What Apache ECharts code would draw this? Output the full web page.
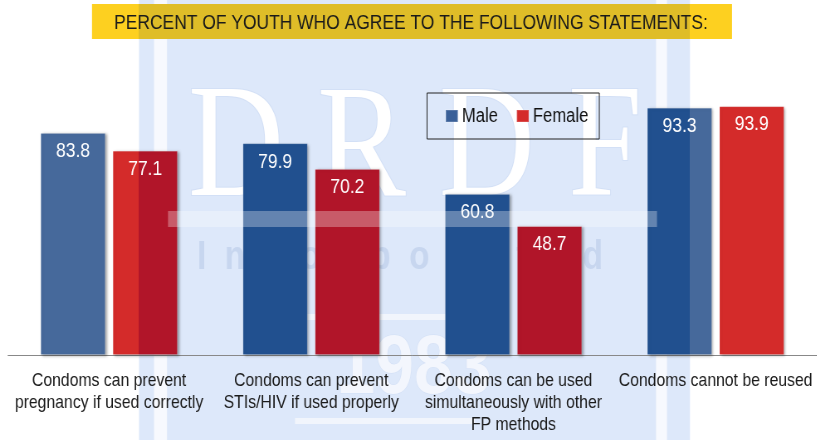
<!DOCTYPE html>
<html>
<head>
<meta charset="utf-8">
<script src="https://cdn.jsdelivr.net/npm/echarts@6/dist/echarts.min.js"></script>
<style>
  html, body { margin: 0; padding: 0; background: #fff; overflow: hidden; }
  /* the source slide is squeezed sideways, so draw wide and narrow it */
  #chart { width: 984px; height: 440px; transform: scaleX(0.83); transform-origin: 0 0; }
</style>
</head>
<body>
<div id="chart"></div>
<script>
// chart data
var categories = [
  'Condoms can prevent\npregnancy if used correctly',
  'Condoms can prevent\nSTIs/HIV if used properly',
  'Condoms can be used\nsimultaneously with other\nFP methods',
  'Condoms cannot be reused'
]
var maleValues = [83.8, 79.9, 60.8, 93.3]
var femaleValues = [77.1, 70.2, 48.7, 93.9]
var seriesNames = ['Male', 'Female']

var SX = 0.83
function X(px) { return px / SX } // screen x -> unsquashed x
var FONT = "'Liberation Sans', Arial, sans-serif"

// the watermark panel tints whatever sits under it
var MALE_OUT = '#46699b'
var MALE_IN = '#21508f'
var FEMALE_OUT = '#d42b2a'
var FEMALE_IN = '#b11529'

function split(a, b, at) {
  return new echarts.graphic.LinearGradient(0, 0, 1, 0, [
    { offset: 0, color: a },
    { offset: at, color: a },
    { offset: at, color: b },
    { offset: 1, color: b }
  ])
}
var maleColors = [MALE_OUT, MALE_IN, MALE_IN, split(MALE_IN, MALE_OUT, 0.66)]
var femaleColors = [split(FEMALE_OUT, FEMALE_IN, 0.4), FEMALE_IN, FEMALE_IN, FEMALE_OUT]

function items(values, colors) {
  return values.map(function (v, i) {
    return { value: v, itemStyle: { color: colors[i] } }
  })
}

var chart = echarts.init(document.getElementById('chart'))

var barStyle = {
  shadowColor: 'rgba(0,0,0,0.35)',
  shadowBlur: 3,
  shadowOffsetX: 2,
  shadowOffsetY: 1,
  borderColor: 'rgba(255,255,255,0.15)',
  borderWidth: 1
}
var valueLabel = {
  show: true,
  position: 'insideTop',
  distance: 8,
  color: '#fff',
  fontSize: 21,
  fontFamily: FONT
}

chart.setOption({
  animation: false,
  title: {
    text: 'PERCENT OF YOUTH WHO AGREE TO THE FOLLOWING STATEMENTS:',
    left: X(110),
    top: 8,
    textStyle: { fontSize: 21, fontWeight: 'normal', color: '#1a1a1a', fontFamily: FONT }
  },
  graphic: [
    {
      type: 'rect', z: -20, silent: true,
      shape: { x: X(139), y: 0, width: X(551), height: 440 },
      style: { fill: '#dde8fa' }
    },
    {
      type: 'rect', z: -19, silent: true,
      shape: { x: X(154), y: 0, width: X(13), height: 440 },
      style: { fill: '#f7f9fe' }
    },
    {
      type: 'rect', z: -19, silent: true,
      shape: { x: X(656), y: 0, width: X(11), height: 440 },
      style: { fill: '#f7f9fe' }
    },
    {
      type: 'text', z: -19, silent: true,
      x: X(415), y: 153,
      style: {
        text: 'D R D F', fill: '#ffffff', stroke: '#d3e0f6', lineWidth: 2,
        font: '160px "Liberation Serif", "DejaVu Serif", serif',
        align: 'center', verticalAlign: 'middle'
      }
    },
    {
      type: 'text', z: -19, silent: true,
      x: X(400), y: 258,
      style: {
        text: 'I  n  c  o  r  p  o  r  a  t  e  d', fill: '#c7d6ef',
        font: 'bold 40px "Liberation Sans", Arial, sans-serif',
        align: 'center', verticalAlign: 'middle'
      }
    },
    {
      type: 'rect', z: -19, silent: true,
      shape: { x: X(295), y: 314, width: X(210), height: 6 },
      style: { fill: '#f1f5fc' }
    },
    {
      type: 'text', z: -19, silent: true,
      x: X(414), y: 328,
      style: {
        text: '1983', fill: '#f3f6fd', stroke: '#d3e0f6', lineWidth: 1,
        font: 'bold 84px "Liberation Sans", Arial, sans-serif',
        align: 'center', verticalAlign: 'top'
      }
    },
    {
      type: 'rect', z: -19, silent: true,
      shape: { x: X(295), y: 418, width: X(180), height: 6 },
      style: { fill: '#f1f5fc' }
    },
    {
      // pale band of the watermark lies over the bars too
      type: 'rect', z: 50, silent: true,
      shape: { x: X(168), y: 211, width: X(489), height: 16 },
      style: { fill: '#ffffff', opacity: 0.3 }
    },
    {
      type: 'rect', z: -5, silent: true,
      shape: { x: X(92), y: 4, width: X(640), height: 35 },
      style: {
        fill: new echarts.graphic.LinearGradient(0, 0, 1, 0, [
          { offset: 0, color: '#fdd020' },
          { offset: 0.073, color: '#fdd020' },
          { offset: 0.073, color: '#dfbd28' },
          { offset: 0.934, color: '#dfbd28' },
          { offset: 0.934, color: '#fdd020' },
          { offset: 1, color: '#fdd020' }
        ])
      }
    }
  ],
  legend: {
    data: seriesNames,
    left: X(427),
    top: 93,
    icon: 'rect',
    itemWidth: X(12),
    itemHeight: 12,
    itemGap: X(18),
    padding: [13, X(11), 13, X(18)],
    borderColor: '#222',
    borderWidth: 1,
    textStyle: { fontSize: 20, color: '#111', fontFamily: FONT }
  },
  grid: { left: X(8), right: 0, top: 90, bottom: 85, outerBoundsMode: 'none', containLabel: false },
  xAxis: {
    type: 'category',
    data: categories,
    axisTick: { show: false },
    axisLine: { lineStyle: { color: '#888', width: 1 } },
    axisLabel: {
      interval: 0,
      margin: 15,
      color: '#1a1a1a',
      fontSize: 19,
      lineHeight: 22,
      fontFamily: FONT
    }
  },
  yAxis: {
    type: 'value',
    min: 0,
    max: 100,
    show: false,
    splitLine: { show: false }
  },
  series: [
    {
      name: seriesNames[0],
      type: 'bar',
      barWidth: X(65),
      barGap: '11%',
      itemStyle: Object.assign({ color: '#3a6098' }, barStyle),
      label: valueLabel,
      data: items(maleValues, maleColors)
    },
    {
      name: seriesNames[1],
      type: 'bar',
      barWidth: X(65),
      itemStyle: Object.assign({ color: '#d42b2a' }, barStyle),
      label: valueLabel,
      data: items(femaleValues, femaleColors)
    }
  ]
})
</script>
</body>
</html>
